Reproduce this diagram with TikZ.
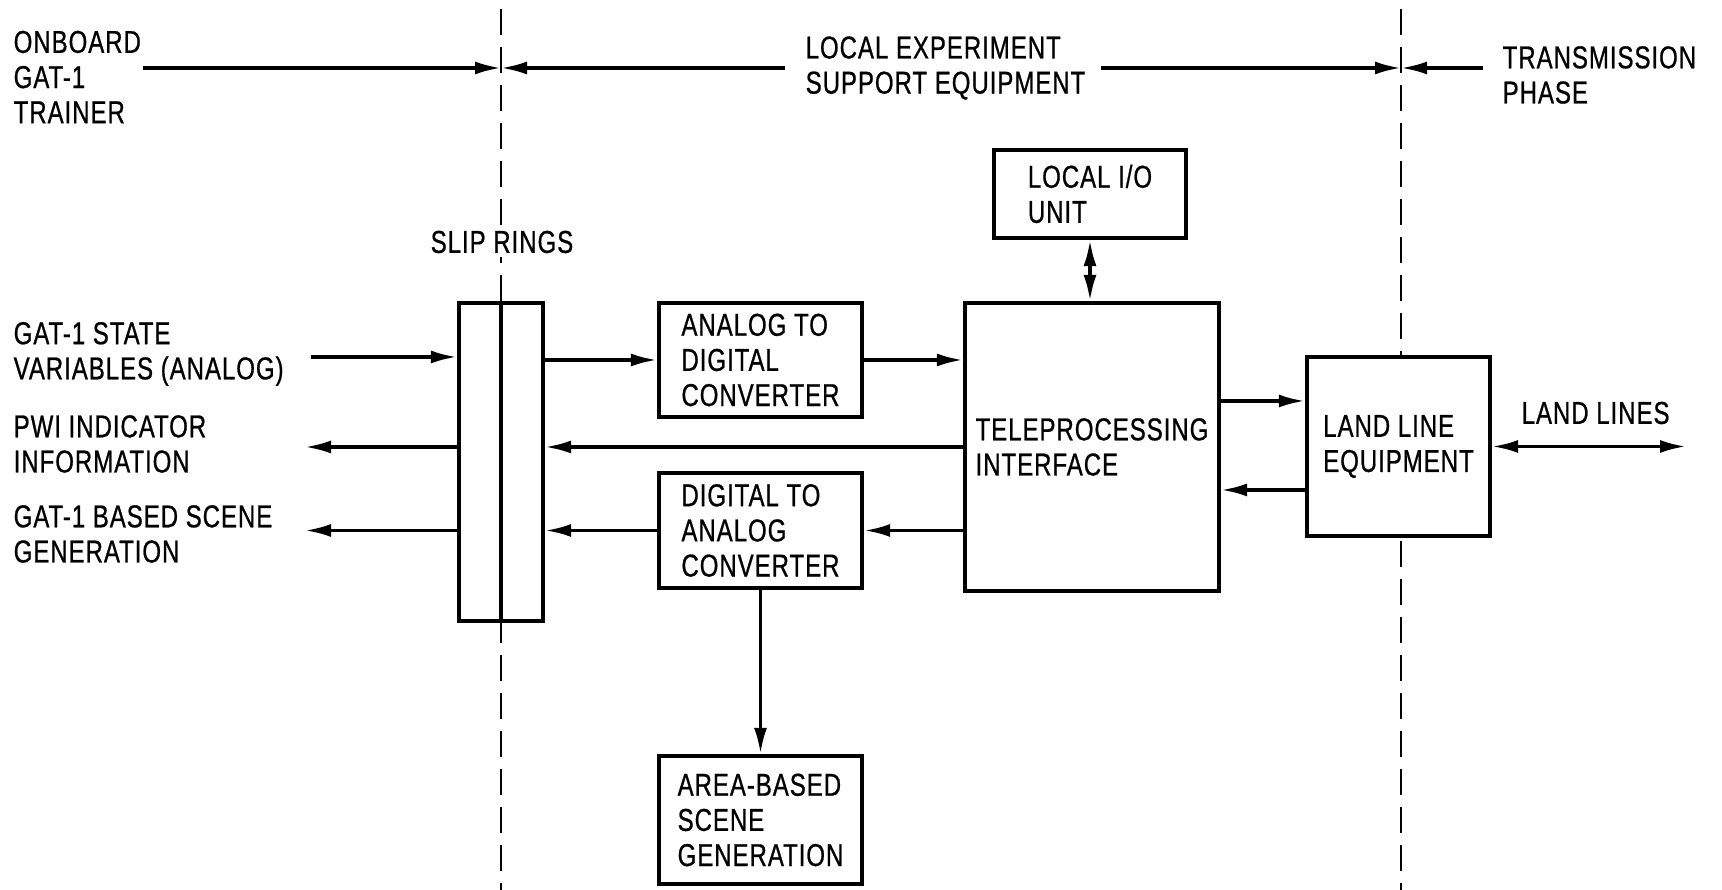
\documentclass[tikz,border=0pt]{standalone}
\usepackage{fontspec}
\setmainfont{Liberation Sans}[FakeStretch=0.76, FakeBold=0.7, LetterSpace=3]
\usetikzlibrary{positioning,arrows.meta}

\begin{document}
\begin{tikzpicture}[
		box/.style={draw, fill=white, line width=1.2pt, align=left, inner sep=0pt},
		lbl/.style={align=left, anchor=west, inner sep=0pt},
		arr/.style={-{Latex[length=2.6mm,width=1.3mm]}, line width=0.95pt},
		dbl/.style={{Latex[length=2.6mm,width=1.3mm]}-{Latex[length=2.6mm,width=1.3mm]}, line width=0.95pt},
		border/.style={dash pattern=on 2.6mm off 1.2mm, line width=0.6pt},
		font=\fontsize{9}{10}\selectfont
	]
	\useasboundingbox (0, 0) rectangle (17.22, 8.90);

	% phase borders
	\coordinate (d1) at (5.01, 8.81);
	\coordinate (d1b) at (5.01, 0);
	\coordinate (d2) at (14.01, 8.81);
	\coordinate (d2b) at (14.01, 0);
	\draw[border] (d1) -- (d1b);
	\draw[border] (d2) -- (d2b);

	% phase titles
	\node[lbl] (onboard) at (0.13, 8.13) {ONBOARD\\GAT-1\\TRAINER};
	\node[lbl] (local) at (8.05, 8.22) {LOCAL EXPERIMENT\\SUPPORT EQUIPMENT};
	\node[lbl] (trans) at (15.02, 8.15) {TRANSMISSION\\PHASE};

	\coordinate (t1) at (1.43, 8.22);
	\coordinate (t2) at (7.85, 8.22);
	\coordinate (t3) at (11.01, 8.22);
	\coordinate (t4) at (14.83, 8.22);
	\draw[arr] (t1) -- (d1 |- t1);
	\draw[arr] (t2) -- (d1 |- t2);
	\draw[arr] (t3) -- (d2 |- t3);
	\draw[arr] (t4) -- (d2 |- t4);

	% boxes
	\node[box, minimum width=0.42cm, minimum height=3.175cm] (slipL) at (4.80, 4.28) {};
	\node[box, minimum width=0.42cm, minimum height=3.175cm] (slipR) at (5.22, 4.28) {};
	\node[fill=white, inner sep=1pt] (slip) at (5.02, 6.48) {SLIP RINGS};

	\node[box, minimum width=2.03cm, minimum height=1.14cm] (ad) at (7.605, 5.30) {ANALOG TO\\DIGITAL\\CONVERTER};
	\node[box, minimum width=2.03cm, minimum height=1.15cm] (da) at (7.605, 3.595) {DIGITAL TO\\ANALOG\\CONVERTER};
	\node[box, minimum width=2.03cm, minimum height=1.28cm] (area) at (7.605, 0.70) {AREA-BASED\\SCENE\\GENERATION};
	\node[box, minimum width=2.54cm, minimum height=2.88cm] (tp) at (10.92, 4.43) {TELEPROCESSING\\INTERFACE};
	\node[box, minimum width=1.92cm, minimum height=0.88cm] (io) at (10.90, 6.96) {LOCAL I/O\\UNIT};
	\node[box, minimum width=1.83cm, minimum height=1.79cm] (ll) at (13.985, 4.435) {LAND LINE\\EQUIPMENT};

	% trainer signals
	\node[lbl] (state) at (0.13, 5.36) {GAT-1 STATE\\VARIABLES (ANALOG)};
	\node[lbl] (pwi) at (0.13, 4.46) {PWI INDICATOR\\INFORMATION};
	\node[lbl] (gen) at (0.13, 3.56) {GAT-1 BASED SCENE\\GENERATION};

	\coordinate (in) at (3.11, 5.33);
	\coordinate (out1) at (3.05, 4.43);
	\coordinate (out2) at (3.05, 3.595);
	\draw[arr] (in) -- (slipL.west |- in);
	\draw[arr] (slipL.west |- out1) -- (out1);
	\draw[arr] (slipL.west |- out2) -- (out2);

	% local equipment
	\draw[arr] (slipR.east |- ad.west) -- (ad.west);
	\draw[arr] (ad.east) -- (tp.west |- ad.east);
	\draw[arr] (tp.west) -- (slipR.east |- tp.west);
	\draw[arr] (tp.west |- da.east) -- (da.east);
	\draw[arr] (da.west) -- (slipR.east |- da.west);
	\draw[arr] (da.south) -- (area.north);
	\draw[dbl] (io.south -| 10.90, 0) -- (tp.north -| 10.90, 0);

	% transmission
	\coordinate (up) at (0, 4.89);
	\coordinate (dn) at (0, 4.00);
	\draw[arr] (tp.east |- up) -- (ll.west |- up);
	\draw[arr] (ll.west |- dn) -- (tp.east |- dn);
	\coordinate (lines) at (16.86, 4.435);
	\draw[dbl] (ll.east) -- (lines);
	\node[lbl] (lbllines) at (15.21, 4.77) {LAND LINES};
\end{tikzpicture}
\end{document}
